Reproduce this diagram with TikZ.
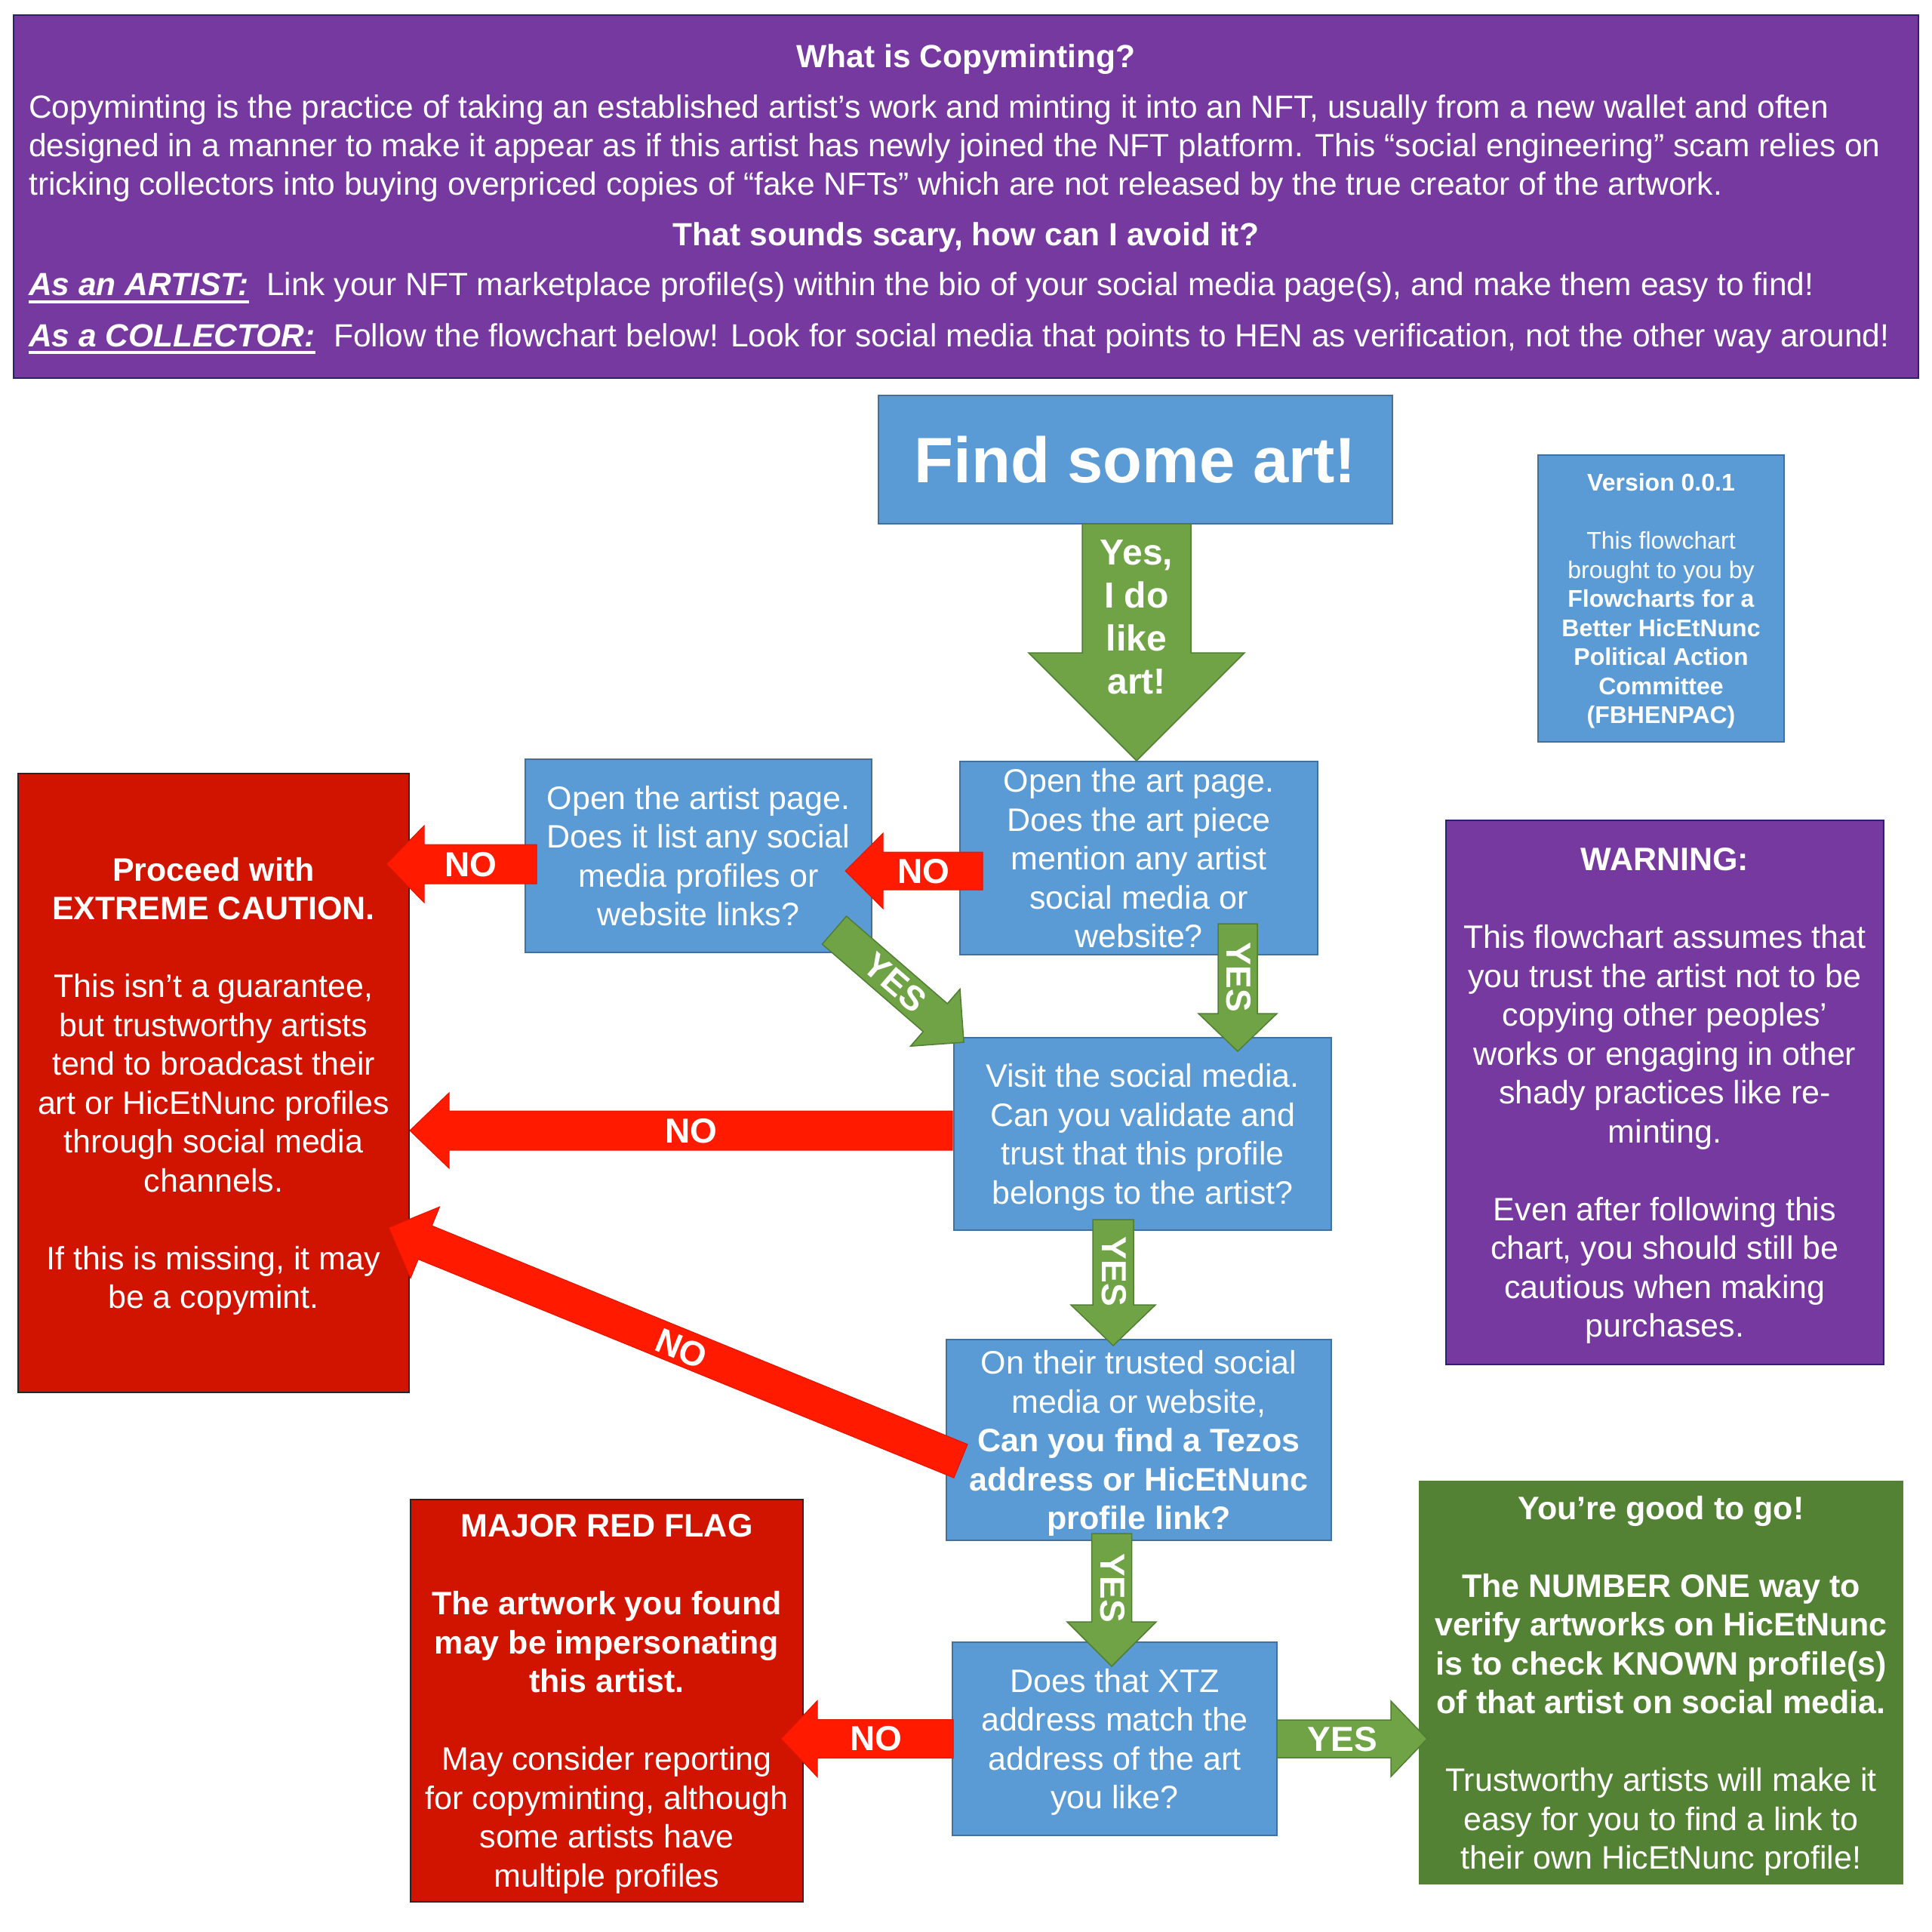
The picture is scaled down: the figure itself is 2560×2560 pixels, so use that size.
\documentclass[tikz,border=0pt]{standalone}
\usepackage{fontspec}
\setmainfont{Liberation Sans}
\definecolor{cpurple}{HTML}{7539A0}
\definecolor{cpurpleb}{HTML}{2A2070}
\definecolor{cblue}{HTML}{5B9BD5}
\definecolor{cblueb}{HTML}{41719C}
\definecolor{cred}{HTML}{D01400}
\definecolor{carrowred}{HTML}{FF1A00}
\definecolor{carrowredb}{HTML}{E01500}
\definecolor{cgreen}{HTML}{6FA346}
\definecolor{cgreenb}{HTML}{507E32}
\definecolor{cdkgreen}{HTML}{548235}
\newcommand{\blockarrow}[8]{%
  \begin{scope}[shift={(#1,#2)},rotate=#3]
    \filldraw[#8] (0,-#5) -- ({#4-#7},-#5) -- ({#4-#7},-#6) -- (#4,0) -- ({#4-#7},#6) -- ({#4-#7},#5) -- (0,#5) -- cycle;
  \end{scope}}
\tikzset{
  boxbase/.style={rectangle, inner sep=0pt, align=center, text=white, line width=2pt, text depth=0pt},
  bluebox/.style={boxbase, fill=cblue, draw=cblueb},
  redbox/.style={boxbase, fill=cred, draw=black!85},
  purplebox/.style={boxbase, fill=cpurple, draw=cpurpleb},
  greenbox/.style={boxbase, fill=cdkgreen, draw=cdkgreen},
  bodyfont/.style={font=\fontsize{43}{51.5}\selectfont},
  garrow/.style={fill=cgreen, draw=cgreenb, line width=1.5pt},
  rarrow/.style={fill=carrowred, draw=carrowredb, line width=1pt},
  arrowlabel/.style={text=white, font=\fontsize{46}{50}\selectfont\bfseries, inner sep=0pt},
  introtext/.style={text=white, inner sep=0pt},
  introfont/.style={font=\fontsize{42.5}{50}\selectfont},
}
\begin{document}
\begin{tikzpicture}[x=1pt,y=-1pt]
\fill[white] (0,0) rectangle (2560,2560);
\useasboundingbox (0,0) rectangle (2560,2560);

% ---------- intro box ----------
\node[purplebox, minimum width=2524pt, minimum height=481pt] (intro) at (1280,260.5) {};
\node[introtext, anchor=base, font=\fontsize{42.5}{50}\selectfont\bfseries] (t1) at (1280,89.5) {What is Copyminting?};
\node[introtext, introfont, anchor=base west] (p1) at (38,156) {Copyminting is the practice of taking an established artist’s work and minting it into an NFT, usually from a new wallet and often};
\node[introtext, introfont, anchor=base west] (p2) at (38,207) {designed in a manner to make it appear as if this artist has newly joined the NFT platform. This “social engineering” scam relies on};
\node[introtext, introfont, anchor=base west] (p3) at (38,258) {tricking collectors into buying overpriced copies of “fake NFTs” which are not released by the true creator of the artwork.};
\node[introtext, anchor=base, font=\fontsize{42.5}{50}\selectfont\bfseries] (t2) at (1280,325) {That sounds scary, how can I avoid it?};
\node[introtext, anchor=base west, font=\fontsize{42.5}{50}\selectfont\bfseries\itshape] (lab1) at (38,391) {As an ARTIST:};
\node[introtext, introfont, anchor=base west] (txt1) at (353,391) {Link your NFT marketplace profile(s) within the bio of your social media page(s), and make them easy to find!};
\draw[white, line width=4.5pt] ([yshift=-9pt]lab1.base west) -- ([yshift=-9pt]lab1.base east);
\node[introtext, anchor=base west, font=\fontsize{42.5}{50}\selectfont\bfseries\itshape] (lab2) at (38,459) {As a COLLECTOR:};
\node[introtext, introfont, anchor=base west] (txt2) at (442,459) {Follow the flowchart below! Look for social media that points to HEN as verification, not the other way around!};
\draw[white, line width=4.5pt] ([yshift=-8pt]lab2.base west) -- ([yshift=-8pt]lab2.base east);

% ---------- boxes ----------
\node[bluebox, minimum width=681pt, minimum height=170pt, font=\fontsize{85}{100}\selectfont\bfseries] (find) at (1504.5,609) {Find some art!};

\node[bluebox, minimum width=326pt, minimum height=380pt, font=\fontsize{32}{38.5}\selectfont] (version) at (2201,793)
 {\textbf{Version 0.0.1}\\[38.5pt]This flowchart\\brought to you by\\\textbf{Flowcharts for a}\\\textbf{Better HicEtNunc}\\\textbf{Political Action}\\\textbf{Committee}\\\textbf{(FBHENPAC)}};

\node[bluebox, bodyfont, minimum width=474pt, minimum height=256pt] (artpage) at (1509,1137)
 {Open the art page.\\Does the art piece\\mention any artist\\social media or\\website?};

\node[bluebox, bodyfont, minimum width=459pt, minimum height=256pt] (artist) at (925.5,1134)
 {Open the artist page.\\Does it list any social\\media profiles or\\website links?};

\node[redbox, bodyfont, minimum width=518pt, minimum height=820pt] (caution) at (283,1435)
 {\textbf{Proceed with}\\\textbf{EXTREME CAUTION.}\\[51.5pt]This isn’t a guarantee,\\but trustworthy artists\\tend to broadcast their\\art or HicEtNunc profiles\\through social media\\channels.\\[51.5pt]If this is missing, it may\\be a copymint.};

\node[purplebox, bodyfont, minimum width=580pt, minimum height=721pt] (warning) at (2206,1447.5)
 {\textbf{WARNING:}\\[51.5pt]This flowchart assumes that\\you trust the artist not to be\\copying other peoples’\\works or engaging in other\\shady practices like re-\\minting.\\[51.5pt]Even after following this\\chart, you should still be\\cautious when making\\purchases.};

\node[bluebox, bodyfont, minimum width=500pt, minimum height=255pt] (visit) at (1514,1502.5)
 {Visit the social media.\\Can you validate and\\trust that this profile\\belongs to the artist?};

\node[bluebox, bodyfont, minimum width=510pt, minimum height=266pt] (trusted) at (1509,1908)
 {On their trusted social\\media or website,\\\textbf{Can you find a Tezos}\\\textbf{address or HicEtNunc}\\\textbf{profile link?}};

\node[bluebox, bodyfont, minimum width=430pt, minimum height=256pt] (xtz) at (1477,2304)
 {Does that XTZ\\address match the\\address of the art\\you like?};

\node[redbox, bodyfont, minimum width=520pt, minimum height=533pt] (redflag) at (804,2253.5)
 {\textbf{MAJOR RED FLAG}\\[51.5pt]\textbf{The artwork you found}\\\textbf{may be impersonating}\\\textbf{this artist.}\\[51.5pt]May consider reporting\\for copyminting, although\\some artists have\\multiple profiles};

\node[greenbox, bodyfont, minimum width=640pt, minimum height=533pt] (good) at (2201,2229.5)
 {\textbf{You’re good to go!}\\[51.5pt]\textbf{The NUMBER ONE way to}\\\textbf{verify artworks on HicEtNunc}\\\textbf{is to check KNOWN profile(s)}\\\textbf{of that artist on social media.}\\[51.5pt]Trustworthy artists will make it\\easy for you to find a link to\\their own HicEtNunc profile!};

% ---------- block arrows ----------
% find -> artpage
\blockarrow{1506}{694}{-90}{314}{72}{143}{143}{garrow}
% artpage -> visit
\blockarrow{1640}{1224}{-90}{169}{26}{52}{50}{garrow}
% artist -> visit (diagonal)
\blockarrow{1105.5}{1232.5}{-40.9}{227}{24.5}{50}{50}{garrow}
% visit -> trusted
\blockarrow{1475}{1616}{-90}{167}{27}{56}{54}{garrow}
% trusted -> xtz
\blockarrow{1473}{2032}{-90}{176}{26.5}{59}{59}{garrow}
% xtz -> good
\blockarrow{1692}{2304}{0}{199}{25}{50}{48}{garrow}
% artpage -> artist
\blockarrow{1302}{1154}{180}{182}{25}{50}{50}{rarrow}
% artist -> caution
\blockarrow{711}{1145}{180}{199}{26}{51}{50}{rarrow}
% visit -> caution
\blockarrow{1262}{1498}{180}{719}{26}{50}{52}{rarrow}
% trusted -> caution (diagonal)
\blockarrow{1273}{1936}{157.8}{818.6}{24}{51}{52}{rarrow}
% xtz -> redflag
\blockarrow{1263}{2304}{180}{228}{25.5}{50.5}{48}{rarrow}

% ---------- arrow labels ----------
\node[arrowlabel, align=center, font=\fontsize{48}{57}\selectfont\bfseries] (yes0) at (1506,818) {Yes,\\I do\\like\\art!};
\node[arrowlabel, rotate=-90] (yes1) at (1641,1295) {YES};
\node[arrowlabel, rotate=-40.9] (yes2) at (1186,1302) {YES};
\node[arrowlabel, rotate=-90] (yes3) at (1476,1685) {YES};
\node[arrowlabel, rotate=-90] (yes4) at (1474,2104) {YES};
\node[arrowlabel] (yes5) at (1779,2305) {YES};
\node[arrowlabel] (no1) at (1224,1155) {NO};
\node[arrowlabel] (no2) at (624,1146) {NO};
\node[arrowlabel] (no3) at (916,1499) {NO};
\node[arrowlabel, rotate=-22.2] (no4) at (903,1787) {NO};
\node[arrowlabel] (no5) at (1161,2304) {NO};
\end{tikzpicture}
\end{document}
